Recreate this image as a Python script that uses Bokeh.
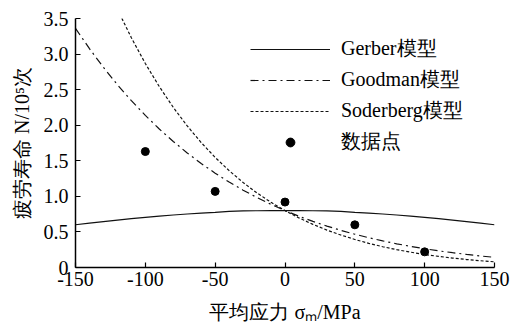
from bokeh.plotting import figure
from bokeh.models import Range1d, FixedTicker, Legend, LegendItem
from bokeh.embed import file_html
from bokeh.resources import INLINE

# mean stress (MPa)
x_curve = [-150, -140, -130, -120, -110, -100, -90, -80, -70, -60, -50, -40, -30, -20, -10,
           0, 10, 20, 30, 40, 50, 60, 70, 80, 90, 100, 110, 120, 130, 140, 150]
gerber = [0.601, 0.624, 0.646, 0.667, 0.687, 0.705, 0.723, 0.738, 0.752, 0.765, 0.775, 0.790, 0.795, 0.798, 0.800,
          0.800, 0.800, 0.798, 0.795, 0.790, 0.775, 0.765, 0.752, 0.738, 0.723, 0.705, 0.687, 0.667, 0.646, 0.624, 0.601]
goodman = [3.361, 3.076, 2.813, 2.569, 2.345, 2.138, 1.947, 1.772, 1.610, 1.462, 1.326, 1.201, 1.087, 0.983, 0.887,
           0.800, 0.720, 0.648, 0.582, 0.522, 0.468, 0.418, 0.374, 0.333, 0.297, 0.264, 0.234, 0.208, 0.184, 0.162, 0.143]
x_soder = [-120, -110, -100, -90, -80, -70, -60, -50, -40, -30, -20, -10,
           0, 10, 20, 30, 40, 50, 60, 70, 80, 90, 100, 110, 120, 130, 140, 150]
soderberg = [3.631, 3.229, 2.867, 2.543, 2.251, 1.990, 1.756, 1.547, 1.361, 1.195, 1.047, 0.916,
             0.800, 0.697, 0.606, 0.526, 0.456, 0.394, 0.340, 0.292, 0.251, 0.215, 0.183, 0.156, 0.133, 0.112, 0.095, 0.080]
x_pts = [-100, -50, 0, 50, 100]
y_pts = [1.63, 1.07, 0.92, 0.60, 0.22]

x_ticks = [-150, -100, -50, 0, 50, 100, 150]
y_ticks = [0, 0.5, 1.0, 1.5, 2.0, 2.5, 3.0, 3.5]
y_tick_labels = ["0", "0.5", "1.0", "1.5", "2.0", "2.5", "3.0", "3.5"]
series_names = ["Gerber模型", "Goodman模型", "Soderberg模型", "数据点"]

SERIF = "Liberation Serif"

p = figure(width=512, height=327, x_range=Range1d(-150, 150), y_range=Range1d(0, 3.5),
           output_backend="svg", toolbar_location=None,
           min_border_left=75, min_border_right=18, min_border_top=18, min_border_bottom=60)
p.outline_line_color = None
p.grid.visible = False
p.background_fill_color = "white"
p.border_fill_color = "white"

r1 = p.line(x_curve, gerber, line_color="#111111", line_width=1.2)
r2 = p.line(x_curve, goodman, line_color="#111111", line_width=1.2, line_dash="8 4 2 4")
r3 = p.line(x_soder, soderberg, line_color="#111111", line_width=1.2, line_dash="3 2")
r4 = p.scatter(x_pts, y_pts, size=8, marker="circle", fill_color="black", line_color="black")

for ax in (p.xaxis[0], p.yaxis[0]):
    ax.axis_line_color = "black"
    ax.axis_line_width = 1.5
    ax.major_tick_in = 5
    ax.major_tick_out = 0
    ax.major_tick_line_color = "black"
    ax.major_tick_line_width = 1.2
    ax.minor_tick_line_color = None
    ax.major_label_text_font = SERIF
    ax.major_label_text_font_size = "20px"
    ax.major_label_text_color = "black"
    ax.axis_label_text_font = SERIF
    ax.axis_label_text_font_size = "20px"
    ax.axis_label_text_font_style = "normal"
    ax.axis_label_text_color = "black"

p.xaxis[0].ticker = FixedTicker(ticks=x_ticks)
p.xaxis[0].major_label_overrides = {t: str(t) for t in x_ticks}
p.xaxis[0].major_label_standoff = 4
p.xaxis[0].axis_label = "平均应力 σₘ/MPa"
p.xaxis[0].axis_label_standoff = 12

p.yaxis[0].ticker = FixedTicker(ticks=y_ticks)
p.yaxis[0].major_label_overrides = {t: l for t, l in zip(y_ticks, y_tick_labels)}
p.yaxis[0].major_label_standoff = 7
p.yaxis[0].axis_label = "疲劳寿命 N/10⁵次"
p.yaxis[0].axis_label_standoff = 8

legend = Legend(items=[LegendItem(label=series_names[0], renderers=[r1]),
                       LegendItem(label=series_names[1], renderers=[r2]),
                       LegendItem(label=series_names[2], renderers=[r3]),
                       LegendItem(label=series_names[3], renderers=[r4])],
                location=(175, 112), orientation="vertical",
                border_line_color=None, background_fill_alpha=0,
                glyph_width=80, glyph_height=22, label_height=22, label_standoff=11,
                spacing=4, padding=0, margin=0,
                label_text_font=SERIF, label_text_font_size="20px", label_text_color="black")
p.add_layout(legend, "center")

open("out.html", "w").write(file_html(p, INLINE))
